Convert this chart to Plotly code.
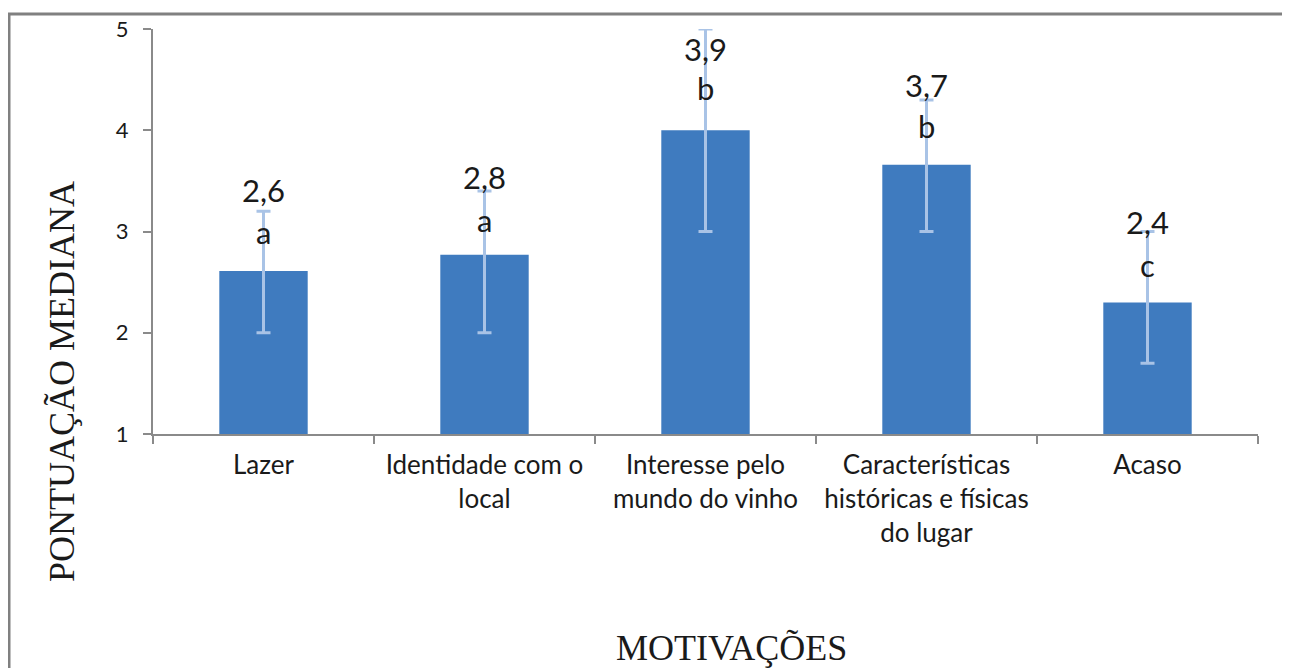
import plotly.graph_objects as go

categories = ["Lazer", "Identidade com o<br>local", "Interesse pelo<br>mundo do vinho",
              "Características<br>históricas e físicas<br>do lugar", "Acaso"]
medians = [2.61, 2.77, 4.0, 3.66, 2.3]
err_upper = [3.2, 3.4, 5.0, 4.3, 3.0]
err_lower = [2.0, 2.0, 3.0, 3.0, 1.7]
value_labels = ["2,6", "2,8", "3,9", "3,7", "2,4"]
letter_labels = ["a", "a", "b", "b", "c"]

# pixel offsets of the labels relative to the top of each error bar (styling)
value_shift = [21, 14, -20, 15, 10]
letter_shift = [-21, -29, -59, -26, -33]

base = 1
# the html page has an 8px body margin, so the figure is 8px smaller and placed 8px in
OFF = 8
W, H = 1290 - OFF, 668 - OFF
ml, mt = 153 - OFF, 29 - OFF
plot_right, plot_bottom = 1258 - OFF, 434 - OFF
mr, mb = W - plot_right, H - plot_bottom
pw, ph = W - ml - mr, H - mt - mb


def px(xr):
    return (xr - OFF - ml) / pw


def py(yr):
    return (plot_bottom - (yr - OFF)) / ph


fig = go.Figure()
fig.add_trace(go.Bar(
    x=categories,
    y=[m - base for m in medians],
    base=base,
    marker=dict(color="#3F7BBF", line=dict(width=0)),
    error_y=dict(type="data", symmetric=False,
                 array=[u - m for u, m in zip(err_upper, medians)],
                 arrayminus=[m - l for m, l in zip(medians, err_lower)],
                 color="#A9C3E6", thickness=3, width=7),
    hoverinfo="skip",
))

annotations = []
label_font = dict(family="Lato, Carlito, sans-serif", size=31, color="#1a1a1a")
for c, u, v, l, vs, ls in zip(categories, err_upper, value_labels, letter_labels, value_shift, letter_shift):
    annotations.append(dict(x=c, y=u, xref="x", yref="y", text=v, showarrow=False,
                            yanchor="middle", yshift=vs, font=label_font))
    annotations.append(dict(x=c, y=u, xref="x", yref="y", text=l, showarrow=False,
                            yanchor="middle", yshift=ls, font=label_font))

serif = dict(family="Liberation Serif, Times New Roman, serif", size=36, color="#1a1a1a")
annotations.append(dict(x=px(62), y=py(382), xref="paper", yref="paper",
                        text="PONTUAÇÃO MEDIANA", textangle=-90, showarrow=False,
                        xanchor="center", yanchor="middle", font=serif))
annotations.append(dict(x=px(731), y=py(648), xref="paper", yref="paper",
                        text="MOTIVAÇÕES", showarrow=False,
                        xanchor="center", yanchor="middle", font=serif))

# outer chart frame
shapes = [dict(type="rect", xref="paper", yref="paper",
               x0=px(9), x1=px(1287), y0=py(720), y1=py(14),
               line=dict(color="#808080", width=3), fillcolor="rgba(0,0,0,0)", layer="below")]

fig.update_layout(
    width=W, height=H,
    margin=dict(l=ml, r=mr, t=mt, b=mb, autoexpand=False),
    plot_bgcolor="white", paper_bgcolor="white",
    bargap=0.6,
    showlegend=False,
    annotations=annotations,
    shapes=shapes,
    xaxis=dict(showline=True, linecolor="#8a8a8a", linewidth=2,
               ticks="outside", tickson="boundaries", ticklen=8, tickcolor="#8a8a8a", tickwidth=2,
               ticklabelstandoff=7,
               tickfont=dict(family="Lato, sans-serif", size=26, color="#1a1a1a"),
               showgrid=False, zeroline=False),
    yaxis=dict(range=[1, 5], dtick=1, showline=True, linecolor="#8a8a8a", linewidth=2,
               ticks="outside", ticklen=8, tickcolor="#8a8a8a", tickwidth=2,
               ticklabelstandoff=10,
               tickfont=dict(family="Lato, sans-serif", size=22, color="#1a1a1a"),
               showgrid=False, zeroline=False),
)

fig.write_html("out.html")
